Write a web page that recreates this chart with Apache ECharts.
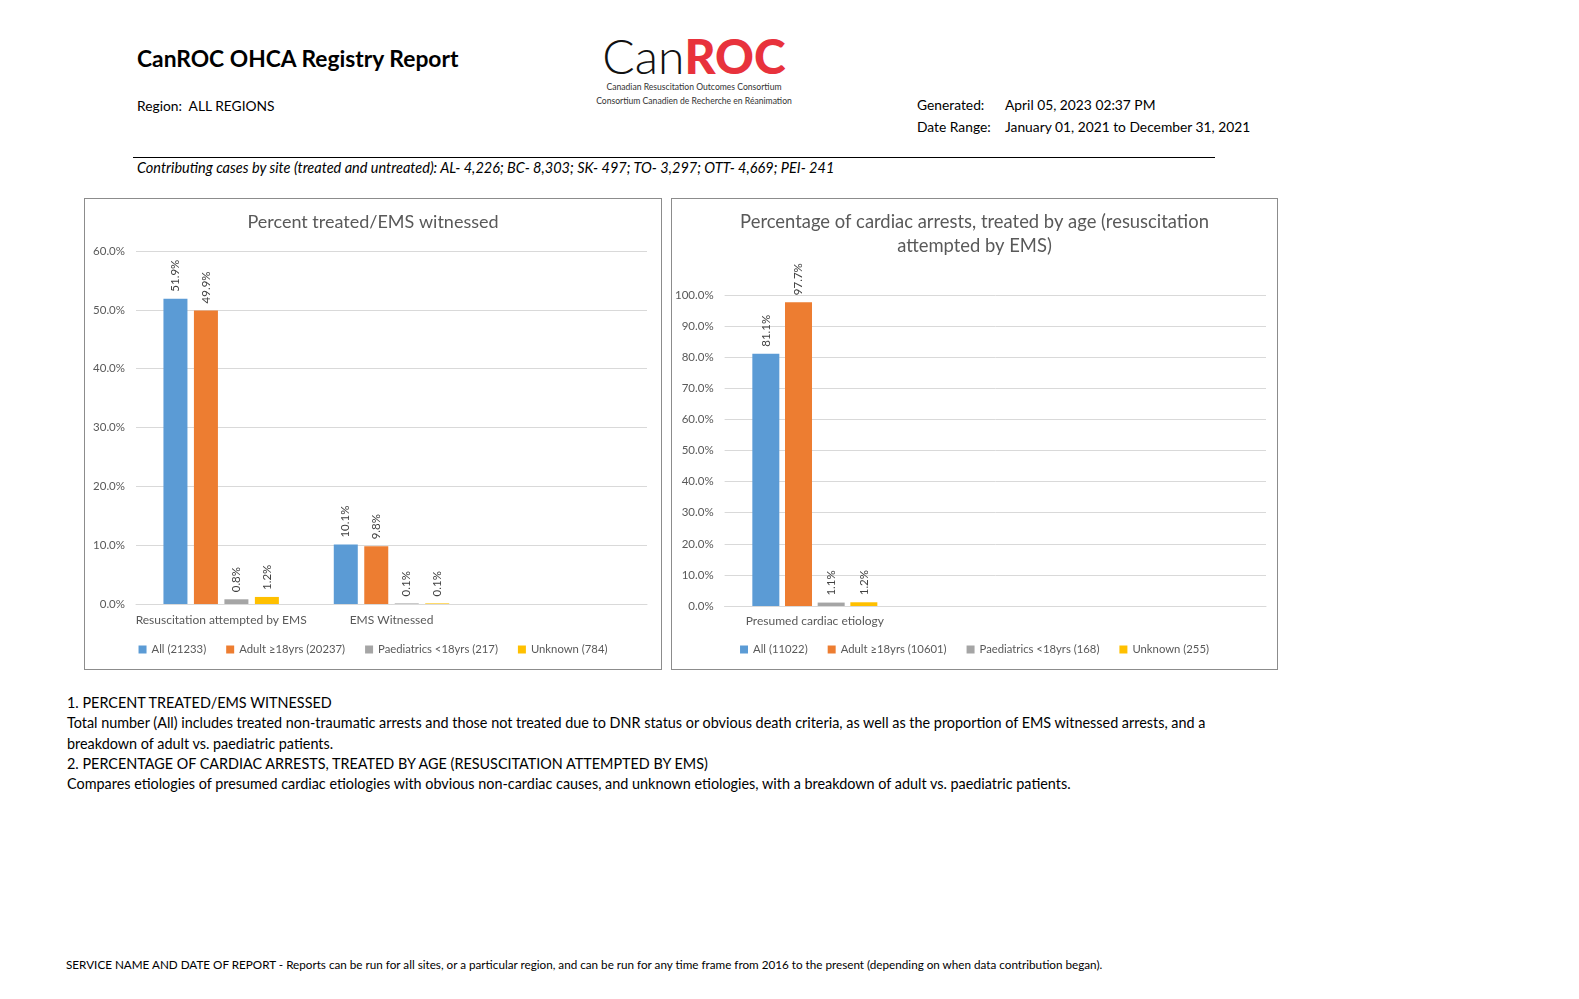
<!DOCTYPE html>
<html>
<head>
<meta charset="utf-8">
<title>CanROC OHCA Registry Report</title>
<script src="https://cdn.jsdelivr.net/npm/echarts@6.0.0/dist/echarts.min.js"></script>
<style>
  body { margin: 0; background: #fff; font-family: Lato, "Open Sans", sans-serif; color: #000; }
  .page { position: relative; width: 1579px; height: 999px; overflow: hidden; }
  .abs { position: absolute; white-space: nowrap; }
  .report-title { left: 137px; top: 45px; font-size: 22.8px; line-height: 26px; font-weight: bold; }
  .meta { font-size: 13.8px; line-height: 16px; }
  .rule { left: 133px; top: 157px; width: 1082px; height: 1px; background: #000; }
  .notes { left: 67px; top: 693px; font-size: 14.4px; line-height: 20.25px; }
  .footer { left: 66px; top: 957px; font-size: 11.7px; line-height: 14px; }
  .logo { left: 580px; top: 31px; width: 228px; text-align: center; font-size: 48px; line-height: 50px; }
  .logo .can { font-weight: 300; color: #111; }
  .logo .roc { font-weight: 900; color: #e8323c; }
  .logo .o { position: relative; }
  .logo svg { position: absolute; left: 50%; margin-left: -8px; top: 21px; width: 16px; height: 16px; }
  .logo-sub { left: 580px; width: 228px; text-align: center; font-size: 8.6px; line-height: 11px; color: #333; }
  .chart { position: absolute; top: 198px; height: 472px; border: 1px solid #8c8c8c; box-sizing: border-box; }
</style>
</head>
<body>
<div class="page">
  <div class="abs report-title">CanROC OHCA Registry Report</div>
  <div class="abs meta" style="left:137px; top:98px;">Region:&nbsp; ALL REGIONS</div>

  <div class="abs logo"><span class="can">Can</span><span class="roc">R<span class="o">O<svg viewBox="0 0 100 100"><polygon fill="#fff" points="47,100 53,100 53,80 80,84 76,74 98,56 92,52 96,38 84,40 80,32 70,44 74,20 66,24 50,0 34,24 26,20 30,44 20,32 16,40 4,38 8,52 2,56 24,74 20,84 47,80"/></svg></span>C</span></div>
  <div class="abs logo-sub" style="top:82px;">Canadian Resuscitation Outcomes Consortium</div>
  <div class="abs logo-sub" style="top:96px;">Consortium Canadien de Recherche en Réanimation</div>

  <div class="abs meta" style="left:917px; top:97px;">Generated:</div>
  <div class="abs meta" style="left:1005px; top:97px;">April 05, 2023 02:37 PM</div>
  <div class="abs meta" style="left:917px; top:119px;">Date Range:</div>
  <div class="abs meta" style="left:1005px; top:119px;">January 01, 2021 to December 31, 2021</div>

  <div class="abs rule"></div>
  <div class="abs meta" style="left:137px; top:160px; font-style:italic; font-size:14.5px;">Contributing cases by site (treated and untreated): AL- 4,226; BC- 8,303; SK- 497; TO- 3,297; OTT- 4,669; PEI- 241</div>

  <div id="chart1" class="chart" style="left:84px; width:578px;"></div>
  <div id="chart2" class="chart" style="left:671px; width:607px;"></div>

  <div class="abs notes">1. PERCENT TREATED/EMS WITNESSED<br>Total number (All) includes treated non-traumatic arrests and those not treated due to DNR status or obvious death criteria, as well as the proportion of EMS witnessed arrests, and a<br>breakdown of adult vs. paediatric patients.<br>2. PERCENTAGE OF CARDIAC ARRESTS, TREATED BY AGE (RESUSCITATION ATTEMPTED BY EMS)<br>Compares etiologies of presumed cardiac etiologies with obvious non-cardiac causes, and unknown etiologies, with a breakdown of adult vs. paediatric patients.</div>

  <div class="abs footer">SERVICE NAME AND DATE OF REPORT - Reports can be run for all sites, or a particular region, and can be run for any time frame from 2016 to the present (depending on when data contribution began).</div>
</div>

<script>
// chart 1 - percent treated / EMS witnessed
var categories1 = ['Resuscitation attempted by EMS', 'EMS Witnessed', ''];
var seriesNames1 = ['All (21233)', 'Adult ≥18yrs (20237)', 'Paediatrics <18yrs (217)', 'Unknown (784)'];
var all1 = [51.9, 10.1];
var adult1 = [49.9, 9.8];
var paed1 = [0.8, 0.1];
var unknown1 = [1.2, 0.1];

// chart 2 - cardiac arrests treated by age
var categories2 = ['Presumed cardiac etiology', '', ''];
var seriesNames2 = ['All (11022)', 'Adult ≥18yrs (10601)', 'Paediatrics <18yrs (168)', 'Unknown (255)'];
var all2 = [81.1];
var adult2 = [97.7];
var paed2 = [1.1];
var unknown2 = [1.2];

var colors = ['#5b9bd5', '#ed7d31', '#a5a5a5', '#ffc000'];
var fontName = 'Lato';

function pct(v) {
    return v.toFixed(1) + '%';
}

function makeSeries(names, lists, barWidth, barGap) {
    var out = [];
    for (var i = 0; i < names.length; i++) {
        out.push({
            name: names[i],
            type: 'bar',
            data: lists[i],
            barWidth: barWidth,
            barGap: barGap,
            itemStyle: { color: colors[i] },
            label: {
                show: true,
                position: 'top',
                rotate: 90,
                align: 'left',
                verticalAlign: 'middle',
                distance: 7,
                color: '#404040',
                fontFamily: fontName,
                fontSize: 11.5,
                formatter: function (p) { return pct(p.value); }
            }
        });
    }
    return out;
}

function makeOption(title, titleSize, cats, names, lists, max, grid, barWidth, barGap, labelMargin) {
    return {
        animation: false,
        color: colors,
        title: {
            text: title,
            left: 'center',
            top: 6,
            textStyle: { color: '#595959', fontFamily: fontName, fontSize: titleSize, fontWeight: 'normal', lineHeight: 24 }
        },
        legend: {
            data: names,
            top: 440,
            left: 'center',
            icon: 'rect',
            itemWidth: 8,
            itemHeight: 8,
            itemGap: 20,
            textStyle: { color: '#595959', fontFamily: fontName, fontSize: 11.3 }
        },
        grid: grid,
        xAxis: {
            type: 'category',
            data: cats,
            axisLine: { lineStyle: { color: '#d9d9d9' } },
            axisTick: { show: false },
            axisLabel: { color: '#595959', fontFamily: fontName, fontSize: 12, margin: labelMargin, interval: 0 }
        },
        yAxis: {
            type: 'value',
            min: 0,
            max: max,
            interval: 10,
            axisLine: { show: false },
            axisTick: { show: false },
            splitLine: { lineStyle: { color: '#d9d9d9' } },
            axisLabel: { color: '#595959', fontFamily: fontName, fontSize: 11.5, margin: 11, formatter: pct }
        },
        series: makeSeries(names, lists, barWidth, barGap)
    };
}

var chart1 = echarts.init(document.getElementById('chart1'));
chart1.setOption(makeOption('Percent treated/EMS witnessed', 18, categories1, seriesNames1,
    [all1, adult1, paed1, unknown1], 60,
    { left: 51, right: 14, top: 52, bottom: 65 }, 24, '27%', 10));

var chart2 = echarts.init(document.getElementById('chart2'));
chart2.setOption(makeOption('Percentage of cardiac arrests, treated by age (resuscitation\nattempted by EMS)', 18.4,
    categories2, seriesNames2, [all2, adult2, paed2, unknown2], 100,
    { left: 51, right: 11, top: 96, bottom: 63 }, 27, '21%', 9));
</script>
</body>
</html>
